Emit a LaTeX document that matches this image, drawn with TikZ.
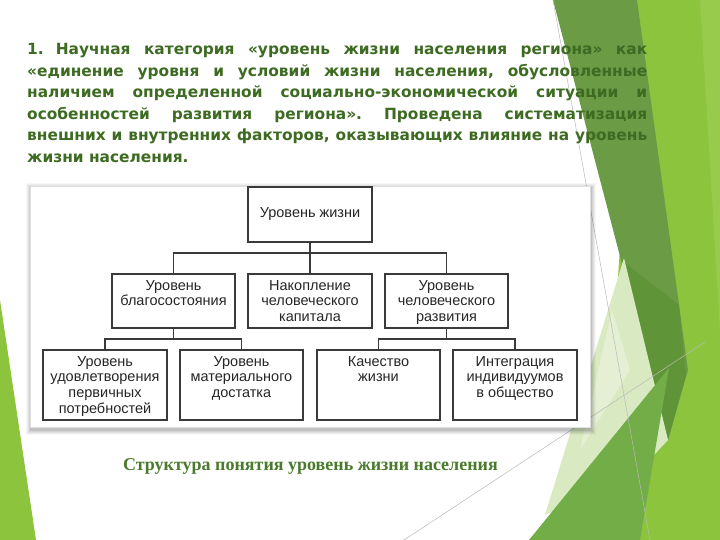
\documentclass[tikz,border=0pt]{standalone}
\usepackage{fontspec}
\setmainfont{Liberation Sans}
\newfontfamily\headfont{DejaVu Sans}
\newfontfamily\capfont{Liberation Serif}
\definecolor{headgreen}{HTML}{3E6B22}
\definecolor{capgreen}{HTML}{4A7A2B}
\definecolor{limeg}{HTML}{8DC43E}
\definecolor{limel}{HTML}{98CA4C}
\definecolor{oliveg}{HTML}{6C9B46}
\definecolor{darkolive}{HTML}{5F9538}
\definecolor{midgreen}{HTML}{72AD48}
\definecolor{paleg}{HTML}{D9EAC2}
\definecolor{paler}{HTML}{E4EFD3}
\definecolor{boxline}{HTML}{3A3A3A}
\tikzset{
  diabox/.style={draw=boxline, line width=1.1pt, fill=white, inner sep=0pt},
  boxtext/.style={inner sep=0pt, align=center, text=black!85, font=\fontsize{14.5}{15.7}\selectfont},
  conn/.style={draw=boxline, line width=1.1pt},
  thinline/.style={draw=gray!55, line width=0.5pt}
}
\frenchspacing
\begin{document}
\begin{tikzpicture}[x=1pt,y=-1pt]
\useasboundingbox (0,0) rectangle (720,540);
\fill[white] (0,0) rectangle (720,540);
% background facets
\fill[limeg] (637,0)--(720,0)--(720,540)--(600,540)--cycle;
\fill[limel] (700,0)--(720,0)--(720,330)--cycle;
\fill[oliveg] (553,0)--(637,0)--(688,370)--(668,440)--cycle;
\fill[darkolive] (624,262)--(679,305)--(686,375)--(668,440)--cycle;
\fill[paleg] (624,258)--(668,440)--(640,470)--(545,515)--cycle;
\fill[paler] (612,310)--(630,370)--(580,450)--cycle;
\fill[midgreen] (529,540)--(669,368)--(640,540)--cycle;
\fill[limeg] (0,300)--(36,540)--(0,540)--cycle;
\draw[thinline] (553,0)--(650,540);
\draw[thinline] (404,540)--(705,342);
% heading
\node[anchor=north west, inner sep=0pt, align=left, text=headgreen,
      font=\headfont\bfseries\fontsize{15.4}{21.5}\selectfont] (head) at (27,43.5)
{\hbox to 620pt{1.\hspace{12pt}Научная категория «уровень жизни населения региона» как}\\
 \hbox to 620pt{«единение уровня и условий жизни населения, обусловленные}\\
 \hbox to 620pt{наличием определенной социально-экономической ситуации и}\\
 \hbox to 620pt{особенностей развития региона». Проведена систематизация}\\
 \hbox to 620pt{внешних и внутренних факторов, оказывающих влияние на уровень}\\
 жизни населения.};
% panel with soft shadow
\foreach \i/\o in {5/0.03,4/0.04,3/0.05,2/0.06,1/0.08}
  \fill[black,opacity=\o] (30-\i+1,186-\i+2) rectangle (590+\i+1,427+\i+3);
\fill[white] (30,186) rectangle (590,427);
\draw[gray!25, line width=0.5pt] (30,186) rectangle (590,427);
% boxes
\node[diabox, minimum width=124pt, minimum height=55pt] (top) at (310,214.5) {};
\node[boxtext] (topt) at (top.center) {Уровень жизни};
\node[diabox, minimum width=123pt, minimum height=54pt] (m1) at (173.5,301) {};
\node[diabox, minimum width=124pt, minimum height=54pt] (m2) at (310,301) {};
\node[diabox, minimum width=123pt, minimum height=54pt] (m3) at (446.5,301) {};
\node[diabox, minimum width=124pt, minimum height=70pt] (b1) at (105,385) {};
\node[diabox, minimum width=123pt, minimum height=70pt] (b2) at (241.5,385) {};
\node[diabox, minimum width=123pt, minimum height=70pt] (b3) at (378.5,385) {};
\node[diabox, minimum width=124pt, minimum height=70pt] (b4) at (515,385) {};
\node[boxtext, anchor=north, yshift=-6.5pt] (m1t) at (m1.north) {Уровень\\благосостояния};
\node[boxtext, anchor=north, yshift=-6.5pt] (m2t) at (m2.north) {Накопление\\человеческого\\капитала};
\node[boxtext, anchor=north, yshift=-6.5pt] (m3t) at (m3.north) {Уровень\\человеческого\\развития};
\node[boxtext, anchor=north, yshift=-6.5pt] (b1t) at (b1.north) {Уровень\\удовлетворения\\первичных\\потребностей};
\node[boxtext, anchor=north, yshift=-6.5pt] (b2t) at (b2.north) {Уровень\\материального\\достатка};
\node[boxtext, anchor=north, yshift=-6.5pt] (b3t) at (b3.north) {Качество\\жизни};
\node[boxtext, anchor=north, yshift=-6.5pt] (b4t) at (b4.north) {Интеграция\\индивидуумов\\в общество};
% connectors
\coordinate (bar1) at (310,253);
\coordinate (bar2) at (173.5,339);
\coordinate (bar3) at (446.5,339);
\draw[conn] (top.south) -- (m2.north);
\draw[conn] (top.south |- bar1) -| (m1.north);
\draw[conn] (top.south |- bar1) -| (m3.north);
\draw[conn] (m1.south) -- (bar2);
\draw[conn] (bar2) -| (b1.north);
\draw[conn] (bar2) -| (b2.north);
\draw[conn] (m3.south) -- (bar3);
\draw[conn] (bar3) -| (b3.north);
\draw[conn] (bar3) -| (b4.north);
% caption
\node[text=capgreen, font=\capfont\bfseries\fontsize{18}{21}\selectfont, inner sep=0pt] (cap) at (310.5,466)
{Структура понятия уровень жизни населения};
\end{tikzpicture}
\end{document}
